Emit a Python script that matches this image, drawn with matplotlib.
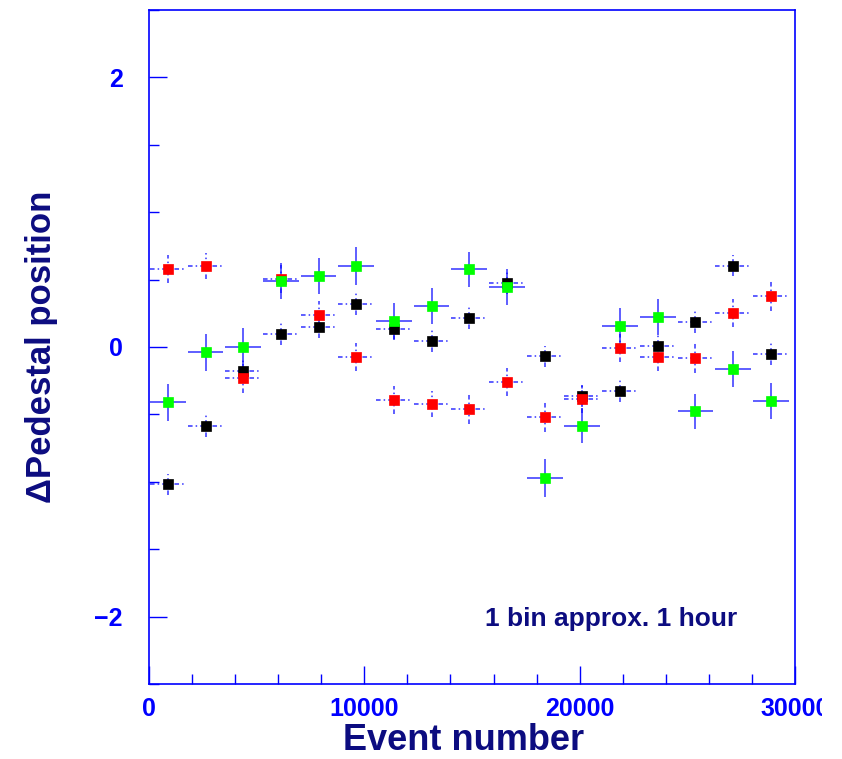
import matplotlib
matplotlib.use("Agg")
import matplotlib.pyplot as plt
from matplotlib.ticker import MultipleLocator, FixedLocator
from matplotlib.transforms import Bbox

# ---- data ----
bin_centers = [875, 2625, 4375, 6125, 7875, 9625, 11375, 13125, 14875, 16625,
               18375, 20125, 21875, 23625, 25375, 27125, 28875]
half_bin = 830

black_vals = [-1.02, -0.586, -0.178, 0.097, 0.146, 0.319, 0.134, 0.042, 0.215, 0.473,
              -0.069, -0.364, -0.326, 0.007, 0.183, 0.601, -0.050]
black_err = [0.078, 0.080, 0.080, 0.082, 0.080, 0.082, 0.080, 0.082, 0.080, 0.082,
             0.080, 0.082, 0.082, 0.080, 0.082, 0.078, 0.082]

red_vals = [0.577, 0.601, -0.232, 0.508, 0.238, -0.072, -0.393, -0.423, -0.460, -0.262,
            -0.518, -0.384, -0.005, -0.076, -0.080, 0.255, 0.381]
red_err = [0.104, 0.099, 0.106, 0.104, 0.104, 0.105, 0.104, 0.097, 0.108, 0.104,
           0.111, 0.104, 0.104, 0.104, 0.111, 0.104, 0.111]

green_vals = [-0.41, -0.04, 0.002, 0.49, 0.527, 0.601, 0.195, 0.304, 0.577, 0.448,
              -0.973, -0.584, 0.156, 0.223, -0.475, -0.163, -0.399]
green_err = [0.137, 0.136, 0.136, 0.134, 0.136, 0.141, 0.134, 0.134, 0.130, 0.134,
             0.141, 0.131, 0.134, 0.134, 0.130, 0.134, 0.134]

x_ticks = [0, 10000, 20000, 30000]
x_ticklabels = ["0", "10000", "20000", "30000"]
y_ticks = [-2, 0, 2]
y_ticklabels = ["\u22122", "0", "2"]

# ---- figure ----
plt.rcParams['font.family'] = ['Liberation Sans', 'DejaVu Sans']
fig = plt.figure(figsize=(8.42, 7.59), dpi=100)
ax = fig.add_axes([149/842, 75/759, (795-149)/842, (684-10)/759])

ebc = '#0000ff'
dashdot = (0, (3, 2, 1, 2))
xerr = [half_bin] * len(bin_centers)

series = [
    (black_vals, black_err, 'black', dashdot),
    (red_vals, red_err, '#ff0000', dashdot),
    (green_vals, green_err, '#00ff00', 'solid'),
]

for vals, errs, col, ls in series:
    eb = ax.errorbar(bin_centers, vals, xerr=xerr, yerr=errs, fmt='none',
                     ecolor=ebc, elinewidth=1.1, alpha=0.8, capsize=0, zorder=2)
    for lc in eb[2]:
        lc.set_linestyle(ls)

for i, (vals, errs, col, ls) in enumerate(series):
    ax.plot(bin_centers, vals, 's', color=col, markersize=7.4,
            markeredgecolor=col, markeredgewidth=0.5, zorder=3 + i)

ax.set_xlim(0, 30000)
ax.set_ylim(-2.5, 2.5)

ax.xaxis.set_major_locator(FixedLocator(x_ticks))
ax.set_xticklabels(x_ticklabels)
ax.xaxis.set_minor_locator(MultipleLocator(2000))
ax.yaxis.set_major_locator(FixedLocator(y_ticks))
ax.set_yticklabels(y_ticklabels)
ax.yaxis.set_minor_locator(MultipleLocator(0.5))

ax.tick_params(axis='both', which='both', direction='in', color='#0000ff',
               top=False, right=False, width=1)
ax.tick_params(axis='both', which='major', length=13)
ax.tick_params(axis='both', which='minor', length=7)
ax.tick_params(axis='x', which='major', pad=9, labelsize=18, labelcolor='#0000ff')
ax.tick_params(axis='y', which='major', pad=19, labelsize=18, labelcolor='#0000ff')
for lab in ax.get_xticklabels() + ax.get_yticklabels():
    lab.set_fontweight('bold')

for sp in ax.spines.values():
    sp.set_color('#0000ff')
    sp.set_linewidth(1.2)

navy = '#0c0c80'
ax.set_xlabel('Event number', fontsize=26, fontweight='bold', color=navy)
ax.xaxis.set_label_coords((463.5 - 149) / 646, -(758 - 684) / 674)
ax.xaxis.label.set_va('bottom')
ax.set_ylabel('\u0394Pedestal position', fontsize=25, fontweight='bold', color=navy, labelpad=26)

ax.text(15600, -2.02, '1 bin approx. 1 hour', fontsize=19, fontweight='bold',
        color=navy, ha='left', va='center')

# clip last x tick label like the reference
clip = Bbox.from_extents(0, 0, 822, 759)
labs = ax.get_xticklabels()
labs[-1].set_clip_box(clip)
labs[-1].set_clip_on(True)

fig.savefig('out.png', dpi=100)
